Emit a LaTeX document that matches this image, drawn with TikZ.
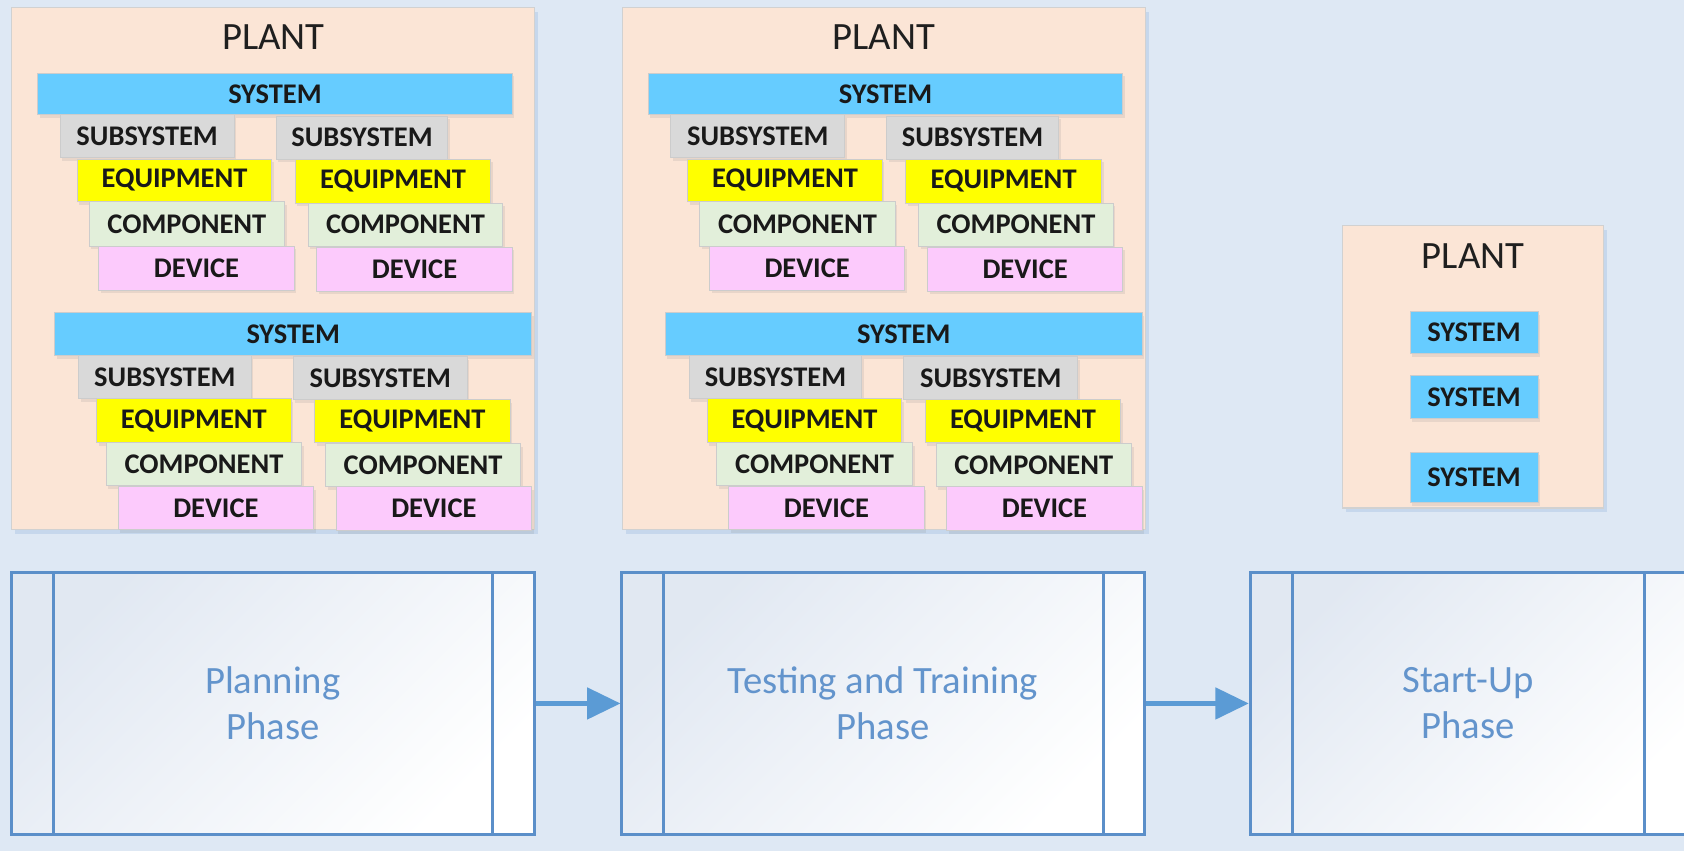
\documentclass[tikz,border=0pt]{standalone}
\usepackage{fontspec}
\setmainfont{Carlito}
\usetikzlibrary{shadows,arrows.meta}
\definecolor{bg}{HTML}{DEE8F4}
\definecolor{plantfill}{HTML}{FBE5D6}
\definecolor{sysc}{HTML}{66CCFF}
\definecolor{subc}{HTML}{D9D9D9}
\definecolor{eqc}{HTML}{FFFF00}
\definecolor{compc}{HTML}{E2EFDA}
\definecolor{devc}{HTML}{FCCAFC}
\definecolor{phaseline}{HTML}{5B8FC9}
\definecolor{phasetext}{HTML}{6394CC}
\definecolor{phasegrad}{HTML}{E1E8F2}
\definecolor{arrowc}{HTML}{5B9BD5}
\tikzset{
  blk/.style={rectangle, draw=black!20, line width=0.8pt, inner sep=0pt,
    font=\fontsize{26.5}{30}\selectfont\bfseries, text=black!90,
    drop shadow={opacity=0.15, shadow xshift=2pt, shadow yshift=-3pt}},
  plantbox/.style={rectangle, draw=black!18, line width=1.2pt, fill=plantfill, inner sep=0pt,
    drop shadow={opacity=0.18, fill=phaseline, shadow xshift=3pt, shadow yshift=-4pt}},
  ptitle/.style={font=\fontsize{36}{40}\selectfont, text=black!88, inner sep=0pt},
  phasebox/.style={rectangle, draw=phaseline, line width=2.6pt, inner sep=0pt,
    top color=phasegrad, bottom color=white, shading angle=45},
  divider/.style={draw=phaseline, line width=2.6pt},
  phasetxt/.style={font=\fontsize{36}{43}\selectfont, text=phasetext, align=center, inner sep=0pt},
  arr/.style={draw=arrowc, line width=4pt, -{Triangle[length=31pt,width=29pt]}},
}
\newcommand\bx[7]{\node[#2,minimum width={(#5-#3)*1pt},minimum height={(#6-#4)*1pt}] (#1) at ({(#3+#5)/2},{(#4+#6)/2}) {#7};}
\newcommand\plantblock[1]{%
  \bx{#1p}{plantbox}{11}{7}{498}{493}{}
  \node[ptitle] (#1t) at (254.5,35) {PLANT};
  \bx{#1sA}{blk,fill=sysc}{35}{68}{477}{107}{SYSTEM}
  \bx{#1uAl}{blk,fill=subc}{56}{107}{218}{147}{SUBSYSTEM}
  \bx{#1uAr}{blk,fill=subc}{257}{108}{417}{148}{SUBSYSTEM}
  \bx{#1eAl}{blk,fill=eqc}{72}{148}{253}{188}{EQUIPMENT}
  \bx{#1eAr}{blk,fill=eqc}{275}{148}{457}{189}{EQUIPMENT}
  \bx{#1cAl}{blk,fill=compc}{83}{188}{265}{229}{COMPONENT}
  \bx{#1cAr}{blk,fill=compc}{287}{189}{468}{229}{COMPONENT}
  \bx{#1dAl}{blk,fill=devc}{92}{229}{274}{270}{DEVICE}
  \bx{#1dAr}{blk,fill=devc}{295}{230}{477}{271}{DEVICE}
  \bx{#1sB}{blk,fill=sysc}{51}{291}{495}{331}{SYSTEM}
  \bx{#1uBl}{blk,fill=subc}{73}{331}{234}{371}{SUBSYSTEM}
  \bx{#1uBr}{blk,fill=subc}{273}{332}{435}{372}{SUBSYSTEM}
  \bx{#1eBl}{blk,fill=eqc}{90}{371}{271}{412}{EQUIPMENT}
  \bx{#1eBr}{blk,fill=eqc}{293}{372}{475}{412}{EQUIPMENT}
  \bx{#1cBl}{blk,fill=compc}{99}{412}{281}{452}{COMPONENT}
  \bx{#1cBr}{blk,fill=compc}{303}{413}{485}{453}{COMPONENT}
  \bx{#1dBl}{blk,fill=devc}{110}{453}{292}{493}{DEVICE}
  \bx{#1dBr}{blk,fill=devc}{313}{453}{495}{494}{DEVICE}
}
\begin{document}
\begin{tikzpicture}[x=1pt,y=-1pt]
\useasboundingbox (0,0) rectangle (1568,792);
\clip (0,0) rectangle (1568,792);
\fill[bg] (0,0) rectangle (1568,792);
% plants
\plantblock{a}
\begin{scope}[xshift=568.5pt]
\plantblock{b}
\end{scope}
\bx{cp}{plantbox}{1250}{210}{1493}{473}{}
\node[ptitle] (ct) at (1371.5,238) {PLANT};
\bx{cs1}{blk,fill=sysc}{1313}{290}{1432}{329}{SYSTEM}
\bx{cs2}{blk,fill=sysc}{1313}{350}{1432}{390}{SYSTEM}
\bx{cs3}{blk,fill=sysc}{1313}{421}{1432}{468}{SYSTEM}
% phases
\bx{ph1}{phasebox}{11}{533}{498}{777}{}
\bx{ph2}{phasebox}{579}{533}{1066}{777}{}
\bx{ph3}{phasebox}{1164}{533}{1572}{777}{}
\draw[divider] ([xshift=40pt]ph1.north west) -- ([xshift=40pt]ph1.south west);
\draw[divider] ([xshift=-41pt]ph1.north east) -- ([xshift=-41pt]ph1.south east);
\draw[divider] ([xshift=40pt]ph2.north west) -- ([xshift=40pt]ph2.south west);
\draw[divider] ([xshift=-40pt]ph2.north east) -- ([xshift=-40pt]ph2.south east);
\draw[divider] ([xshift=41pt]ph3.north west) -- ([xshift=41pt]ph3.south west);
\draw[divider] ([xshift=-42pt]ph3.north east) -- ([xshift=-42pt]ph3.south east);
\node[phasetxt] (ph1t) at (254,655) {Planning\\Phase};
\node[phasetxt] (ph2t) at (822,655) {Testing and Training\\Phase};
\node[phasetxt] (ph3t) at (1367,655) {Start-Up\\Phase};
\draw[arr] (ph1.east) -- (ph2.west);
\draw[arr] (ph2.east) -- (ph3.west);
\end{tikzpicture}
\end{document}
